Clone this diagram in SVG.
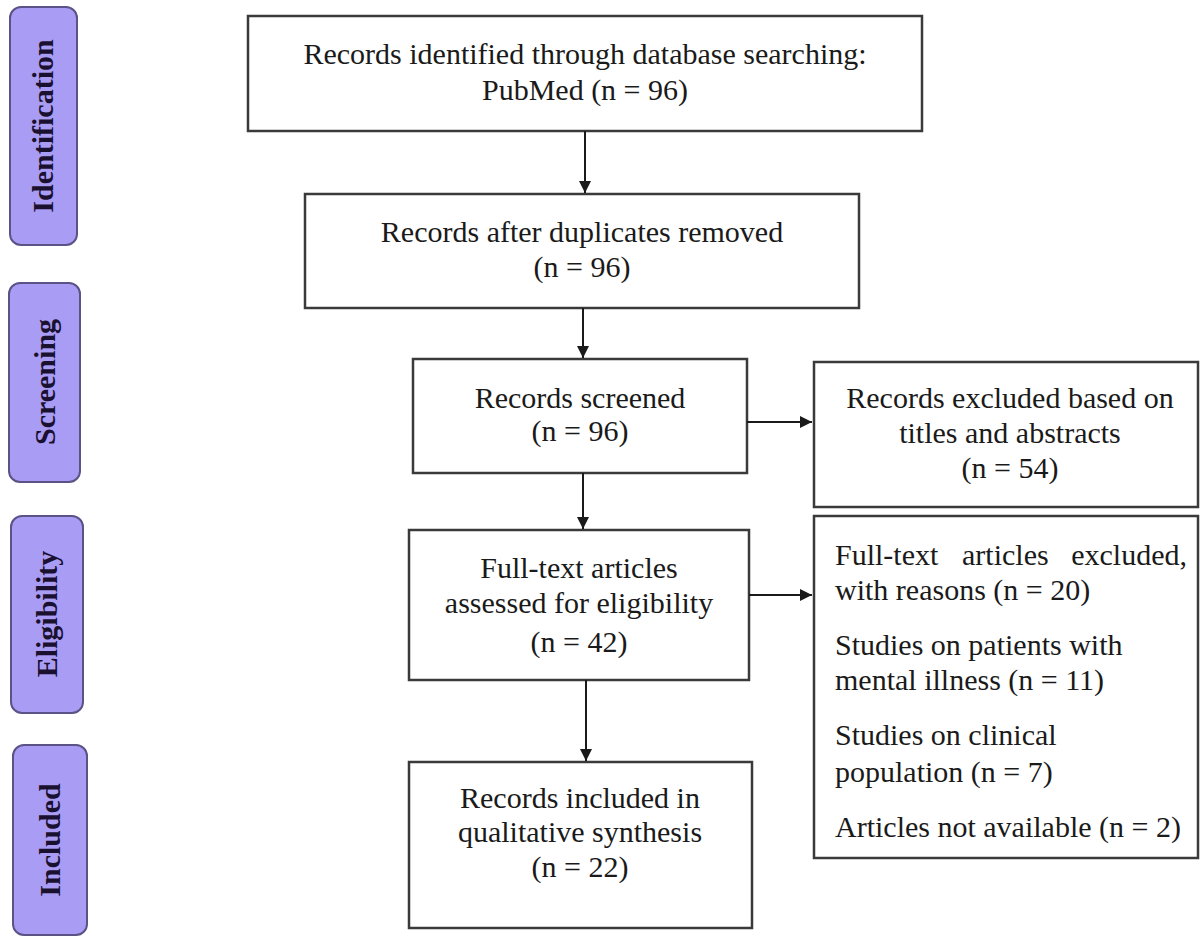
<svg xmlns="http://www.w3.org/2000/svg" width="1200" height="938" viewBox="0 0 1200 938">
<defs>
<style>
.box{fill:#fff;stroke:#3a3a3a;stroke-width:2.5}
.phase{fill:#a99cf5;stroke:#5b5385;stroke-width:2}
.t{font-family:"Liberation Serif","Times New Roman",serif;font-size:30px;fill:#1a1a1a}
.c{text-anchor:middle}
.pt{font-family:"Liberation Serif","Times New Roman",serif;font-size:30px;font-weight:bold;fill:#1a1030;text-anchor:middle}
.conn{stroke:#1a1a1a;stroke-width:2;fill:none}
</style>
<marker id="ah" viewBox="0 0 10 10" refX="10" refY="5" markerWidth="6" markerHeight="6" markerUnits="strokeWidth" orient="auto">
<path d="M0,0 L10,5 L0,10 z" fill="#1a1a1a"/>
</marker>
</defs>
<rect width="1200" height="938" fill="#fff"/>

<g id="phase-identification">
<rect class="phase" x="10" y="7" width="67" height="238" rx="11"/>
<text class="pt" transform="translate(53,126) rotate(-90)">Identification</text>
</g>
<g id="phase-screening">
<rect class="phase" x="9" y="283" width="71" height="199" rx="11"/>
<text class="pt" transform="translate(55,382) rotate(-90)">Screening</text>
</g>
<g id="phase-eligibility">
<rect class="phase" x="11" y="516" width="72" height="197" rx="11"/>
<text class="pt" transform="translate(57,614) rotate(-90)">Eligibility</text>
</g>
<g id="phase-included">
<rect class="phase" x="13" y="745" width="74" height="190" rx="11"/>
<text class="pt" transform="translate(60,840) rotate(-90)">Included</text>
</g>

<g id="identified">
<rect class="box" x="248" y="16" width="674" height="115"/>
<text class="t c" x="585" y="64">Records identified through database searching:</text>
<text class="t c" x="585" y="100">PubMed (n = 96)</text>
</g>
<g id="duplicates">
<rect class="box" x="305" y="194" width="554" height="114"/>
<text class="t c" x="582" y="242">Records after duplicates removed</text>
<text class="t c" x="582" y="277">(n = 96)</text>
</g>
<g id="screened">
<rect class="box" x="413" y="359" width="334" height="114"/>
<text class="t c" x="580" y="408">Records screened</text>
<text class="t c" x="580" y="441">(n = 96)</text>
</g>
<g id="excluded-titles">
<rect class="box" x="814" y="362" width="384" height="145"/>
<text class="t c" x="1010" y="408">Records excluded based on</text>
<text class="t c" x="1010" y="443">titles and abstracts</text>
<text class="t c" x="1010" y="478">(n = 54)</text>
</g>
<g id="fulltext">
<rect class="box" x="409" y="530" width="340" height="150"/>
<text class="t c" x="579" y="578">Full-text articles</text>
<text class="t c" x="579" y="613">assessed for eligibility</text>
<text class="t c" x="579" y="652">(n = 42)</text>
</g>
<g id="excluded-fulltext">
<rect class="box" x="814" y="516" width="384" height="342"/>
<text class="t" x="835" y="565">Full-text</text>
<text class="t" x="962" y="565">articles</text>
<text class="t" x="1187" y="565" text-anchor="end">excluded,</text>
<text class="t" x="835" y="600">with reasons (n = 20)</text>
<text class="t" x="835" y="655">Studies on patients with</text>
<text class="t" x="835" y="690">mental illness (n = 11)</text>
<text class="t" x="835" y="745">Studies on clinical</text>
<text class="t" x="835" y="782">population (n = 7)</text>
<text class="t" x="835" y="837">Articles not available (n = 2)</text>
</g>
<g id="included">
<rect class="box" x="409" y="762" width="343" height="166"/>
<text class="t c" x="580" y="808">Records included in</text>
<text class="t c" x="580" y="842">qualitative synthesis</text>
<text class="t c" x="580" y="877">(n = 22)</text>
</g>

<g id="connectors">
<line class="conn" x1="585" y1="131" x2="585" y2="193" marker-end="url(#ah)"/>
<line class="conn" x1="583" y1="308" x2="583" y2="358" marker-end="url(#ah)"/>
<line class="conn" x1="583" y1="473" x2="583" y2="529" marker-end="url(#ah)"/>
<line class="conn" x1="586" y1="680" x2="586" y2="761" marker-end="url(#ah)"/>
<line class="conn" x1="747" y1="422" x2="812" y2="422" marker-end="url(#ah)"/>
<line class="conn" x1="749" y1="595" x2="812" y2="595" marker-end="url(#ah)"/>
</g>
</svg>
